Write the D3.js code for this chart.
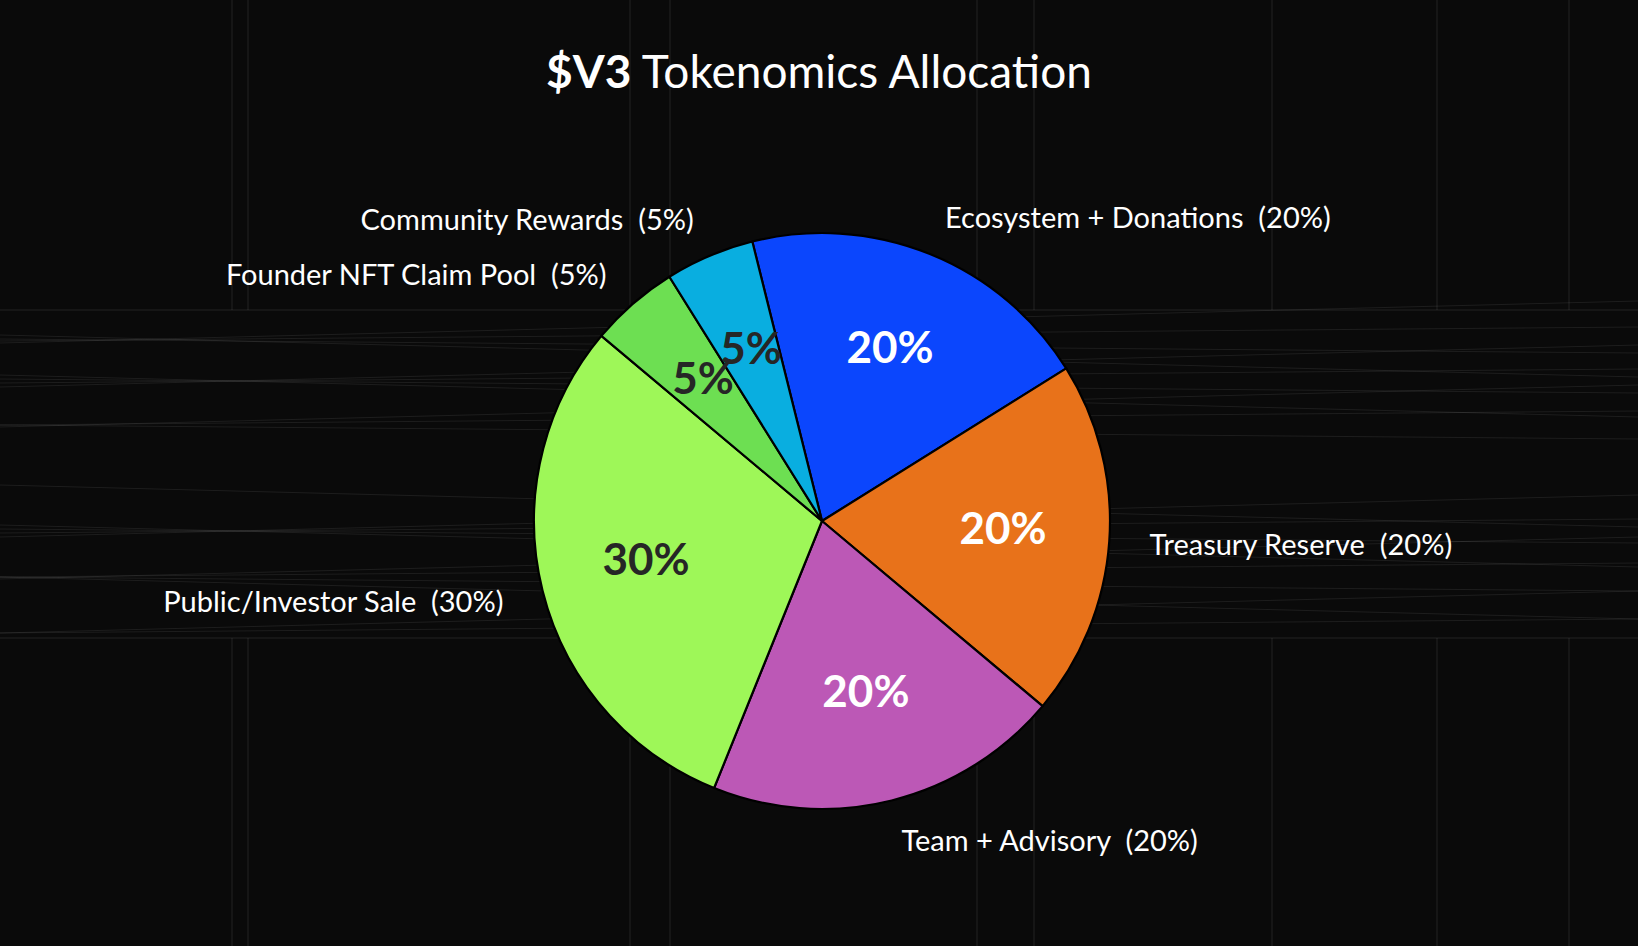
<!DOCTYPE html>
<html>
<head>
<meta charset="utf-8">
<script src="https://cdn.jsdelivr.net/npm/d3@7"></script>
<style>
  html, body { margin: 0; padding: 0; background: #0a0a0a; }
  text { font-family: Lato, "Open Sans", sans-serif; }
</style>
</head>
<body>
<div id="chart"></div>
<script>
const width = 1638;
const height = 946;

// data
const categories = [
  "Ecosystem + Donations",
  "Treasury Reserve",
  "Team + Advisory",
  "Public/Investor Sale",
  "Founder NFT Claim Pool",
  "Community Rewards"
];
const shares = [20, 20, 20, 30, 5, 5];
const sliceColors = ["#0b46fd", "#e8721a", "#bc58b6", "#9ef758", "#6ddf52", "#09aee0"];
const pctTextColors = ["#ffffff", "#ffffff", "#ffffff", "#262626", "#262626", "#262626"];

// faint background decoration
const bgVertX = [232, 248, 630, 670, 977, 1034, 1272, 1437, 1569];
const bgBandY = [322, 334, 346, 356, 366, 376, 386, 396, 406, 418, 432,
                 506, 516, 526, 536, 546, 558, 570, 584, 598, 612, 626];

const cx = 822, cy = 521, radius = 288;
const startDeg = -14;

const svg = d3.select("#chart")
  .append("svg")
  .attr("width", width)
  .attr("height", height);

svg.append("rect")
  .attr("width", width)
  .attr("height", height)
  .attr("fill", "#0a0a0a");

// background lines
const bg = svg.append("g").attr("stroke", "#ffffff").attr("fill", "none");
bgVertX.forEach(x => {
  bg.append("line").attr("x1", x).attr("x2", x).attr("y1", 0).attr("y2", 310)
    .attr("stroke-opacity", 0.1).attr("stroke-width", 1);
  bg.append("line").attr("x1", x).attr("x2", x).attr("y1", 638).attr("y2", height)
    .attr("stroke-opacity", 0.1).attr("stroke-width", 1);
});
bgBandY.forEach((y, i) => {
  const tilt = (i % 4 - 1.5) * 14;
  bg.append("line").attr("x1", 0).attr("x2", width)
    .attr("y1", y - tilt).attr("y2", y + tilt)
    .attr("stroke-opacity", 0.08).attr("stroke-width", 1);
});
bg.append("line").attr("x1", 0).attr("x2", width).attr("y1", 310).attr("y2", 310)
  .attr("stroke-opacity", 0.1);
bg.append("line").attr("x1", 0).attr("x2", width).attr("y1", 638).attr("y2", 638)
  .attr("stroke-opacity", 0.1);

// pie
const rows = categories.map((c, i) => ({ name: c, value: shares[i], color: sliceColors[i], tc: pctTextColors[i] }));
const total = d3.sum(shares);

const pie = d3.pie()
  .value(d => d.value)
  .sort(null)
  .startAngle(startDeg * Math.PI / 180)
  .endAngle((startDeg + 360) * Math.PI / 180);

const arcs = pie(rows);
const arc = d3.arc().innerRadius(0).outerRadius(radius);

const g = svg.append("g").attr("transform", `translate(${cx},${cy})`);

g.selectAll("path.slice")
  .data(arcs)
  .join("path")
  .attr("class", "slice")
  .attr("d", arc)
  .attr("fill", d => d.data.color)
  .attr("stroke", "#000")
  .attr("stroke-width", 2.2)
  .attr("stroke-linejoin", "round");

// percent labels inside
const pctArc = d3.arc().innerRadius(radius * 0.63).outerRadius(radius * 0.63);
g.selectAll("text.pct")
  .data(arcs)
  .join("text")
  .attr("class", "pct")
  .attr("transform", d => `translate(${pctArc.centroid(d)})`)
  .attr("text-anchor", "middle")
  .attr("dominant-baseline", "central")
  .attr("dy", "-0.15em")
  .attr("fill", d => d.data.tc)
  .style("font-size", "44px")
  .style("font-weight", "bold")
  .text(d => Math.round(d.data.value / total * 100) + "%");

// outer labels
const labelArc = d3.arc().innerRadius(radius * 1.14).outerRadius(radius * 1.14);
g.selectAll("text.lbl")
  .data(arcs)
  .join("text")
  .attr("class", "lbl")
  .attr("transform", d => `translate(${labelArc.centroid(d)})`)
  .attr("text-anchor", d => labelArc.centroid(d)[0] >= 0 ? "start" : "end")
  .attr("dominant-baseline", "central")
  .attr("fill", "#ffffff")
  .style("font-size", "29px")
  .style("white-space", "pre")
  .text(d => `${d.data.name}  (${Math.round(d.data.value / total * 100)}%)`);

// title
const title = svg.append("text")
  .attr("x", 819)
  .attr("y", 88)
  .attr("text-anchor", "middle")
  .attr("fill", "#ffffff")
  .style("font-size", "46px")
  .style("white-space", "pre");
title.append("tspan").style("font-weight", "bold").text("$V3");
title.append("tspan").text(" Tokenomics Allocation");
</script>
</body>
</html>
